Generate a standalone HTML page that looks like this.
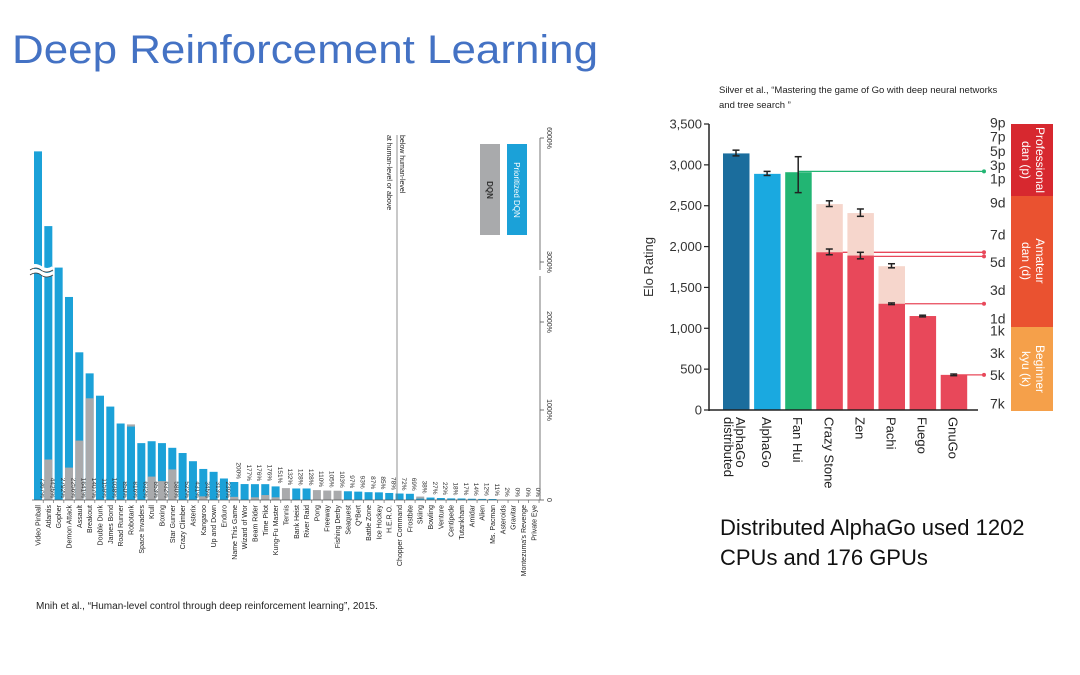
<!DOCTYPE html>
<html><head><meta charset="utf-8"><style>
body{margin:0;width:1080px;height:675px;background:#fff;overflow:hidden;font-family:"Liberation Sans",sans-serif}
svg{position:absolute;left:0;top:0}
</style></head><body>
<svg id="s" width="1080" height="675" xmlns="http://www.w3.org/2000/svg" font-family="Liberation Sans, sans-serif">
<text x="12" y="63" font-size="40" fill="#4472c4" textLength="586" lengthAdjust="spacingAndGlyphs">Deep Reinforcement Learning</text>
<g id="left"></g>
<g id="right"></g>
<text x="36" y="609" font-size="10" fill="#222">Mnih et al., “Human-level control through deep reinforcement learning”, 2015.</text>
<text x="719" y="93" font-size="9.5" fill="#222">Silver et al., “Mastering the game of Go with deep neural networks</text>
<text x="719" y="108" font-size="9.5" fill="#222">and tree search ”</text>
<text x="720" y="535" font-size="22" fill="#111">Distributed AlphaGo used 1202</text>
<text x="720" y="565" font-size="22" fill="#111">CPUs and 176 GPUs</text>
</svg>
<script>
const games=["Video Pinball","Atlantis","Gopher","Demon Attack","Assault","Breakout","Double Dunk","James Bond","Road Runner","Robotank","Space Invaders","Krull","Boxing","Star Gunner","Crazy Climber","Asterix","Kangaroo","Up and Down","Enduro","Name This Game","Wizard of Wor","Beam Rider","Time Pilot","Kung-Fu Master","Tennis","Bank Heist","River Raid","Pong","Freeway","Fishing Derby","Seaquest","Q*Bert","Battle Zone","Ice Hockey","H.E.R.O.","Chopper Command","Frostbite","Skiing","Bowling","Venture","Centipede","Tutankham","Amidar","Alien","Ms. Pacman","Asteroids","Gravitar","Montezuma's Revenge","Private Eye"];
const prioVals=[7367,4425,2792,2256,1641,1407,1159,1038,850,816,632,653,632,580,522,431,345,313,239,200,177,176,176,151,0,128,128,0,0,0,97,93,87,85,78,72,69,15,27,22,18,17,14,12,11,2,0,0,0];
const dqnVals=[0,450,0,360,660,1130,0,0,0,840,0,260,210,340,0,0,40,0,0,35,0,30,55,30,132,0,0,110,105,103,0,0,0,0,0,0,0,38,0,0,0,0,0,0,0,0,0,0,0];
const valueLabels=["7367%","4425%","2792%","2256%","1641%","1407%","1159%","1038%","850%","816%","632%","653%","632%","580%","522%","431%","345%","313%","239%","200%","177%","176%","176%","151%","132%","128%","128%","110%","105%","103%","97%","93%","87%","85%","78%","72%","69%","38%","27%","22%","18%","17%","14%","12%","11%","2%","0%","0%","0%"];
const leftTicks=[0,1000,2000,3000,6000];
const leftTickLabels=["0","1000%","2000%","3000%","6000%"];
const eloNames=[["AlphaGo","distributed"],["AlphaGo"],["Fan Hui"],["Crazy Stone"],["Zen"],["Pachi"],["Fuego"],["GnuGo"]];
const eloVals=[3140,2890,2910,1930,1890,1300,1150,430];
const eloHigh=[0,0,0,2520,2410,1760,0,0];
const eloErr=[[3110,3180],[2870,2920],[2660,3100],[1900,1970],[1850,1930],[1290,1310],[1140,1160],[420,440]];
const eloErrHigh=[null,null,null,[2490,2560],[2370,2460],[1740,1790],null,null];
const eloLines=[2920,1930,1880,1300,430];
const eloTicks=[0,500,1000,1500,2000,2500,3000,3500];
const ranks=["9p","7p","5p","3p","1p","9d","7d","5d","3d","1d","1k","3k","5k","7k"];
const rankElo=[3520,3350,3170,3000,2830,2540,2150,1810,1470,1120,970,700,430,80];

const NS="http://www.w3.org/2000/svg";
function mk(p,t,a){const e=document.createElementNS(NS,t);for(const k in a)e.setAttribute(k,a[k]);p.appendChild(e);return e;}
// LEFT
const L=document.getElementById('left');
const base=500;
function ly(v){return v<=2500?base-v*0.09:base-2500*0.09-(v-2500)*0.0254;}
function lx(i){return 38+i*10.33;}
function tickY(v){const m={0:500,1000:410,2000:322,3000:262,6000:138};return m[v]!==undefined?m[v]:ly(v);}
for(let i=0;i<games.length;i++){
  const p=prioVals[i],d=dqnVals[i];
  const bars=p>=d?[[p,'#1ba1d8'],[d,'#a9aaac']]:[[d,'#a9aaac'],[p,'#1ba1d8']];
  bars.forEach(([v,c],k)=>{ if(v<=0)return;
    const r=mk(L,'rect',{x:lx(i)-4,y:ly(v),width:8,height:base-ly(v),fill:c});
    
    
  });
  const top=ly(Math.max(p,d));
  const inside=i<19;
  const yy=inside?base-2:top-3;
  const t=mk(L,'text',{x:0,y:0,'font-size':6.5,fill:'#333','text-anchor':'end',transform:`translate(${lx(i)+2.3},${yy}) rotate(90)`});
  t.textContent=valueLabels[i];
  
  
  const g=mk(L,'text',{x:0,y:0,'font-size':7,fill:'#222','text-anchor':'end',transform:`translate(${lx(i)+2.5},505) rotate(-90)`});
  g.textContent=games[i];
  
  
  mk(L,'line',{x1:lx(i)+5.2,x2:lx(i)+5.2,y1:base,y2:base+3,stroke:'#555','stroke-width':0.6});
}
mk(L,'line',{x1:32,x2:540,y1:base,y2:base,stroke:'#555','stroke-width':0.8});
mk(L,'line',{x1:540,x2:540,y1:138,y2:270,stroke:'#555','stroke-width':0.8});
mk(L,'line',{x1:540,x2:540,y1:276,y2:base,stroke:'#555','stroke-width':0.8});
mk(L,'path',{d:'M29 273 q6 -4 12 0 t12 0 M29 268 q6 -4 12 0 t12 0',stroke:'#fff','stroke-width':4,fill:'none'});
mk(L,'path',{d:'M30 275 q6 -4 11 0 t12 0 M30 270 q6 -4 11 0 t12 0',stroke:'#333','stroke-width':0.8,fill:'none'});
leftTicks.forEach((v,k)=>{const y=tickY(v);
  mk(L,'line',{x1:540,x2:544,y1:y,y2:y,stroke:'#555','stroke-width':0.8});
  const t=mk(L,'text',{x:0,y:0,'font-size':7,fill:'#333','text-anchor':'middle',transform:`translate(${547},${y}) rotate(90)`});
  t.textContent=leftTickLabels[k];
  
  
});
mk(L,'line',{x1:397,x2:397,y1:135,y2:base,stroke:'#777','stroke-width':0.8});
let t1=mk(L,'text',{x:0,y:0,'font-size':7,fill:'#222','text-anchor':'start',transform:'translate(387,135) rotate(90)'});t1.textContent='at human-level or above';
t1=mk(L,'text',{x:0,y:0,'font-size':7,fill:'#222','text-anchor':'start',transform:'translate(400,135) rotate(90)'});t1.textContent='below human-level';
mk(L,'rect',{x:480,y:144,width:20,height:91,fill:'#a9aaac',});
mk(L,'rect',{x:507,y:144,width:20,height:91,fill:'#1ba1d8',});
t1=mk(L,'text',{x:0,y:0,'font-size':8,'font-weight':'bold',fill:'#333','text-anchor':'middle',transform:'translate(487,190) rotate(90)'});t1.textContent='DQN';
t1=mk(L,'text',{x:0,y:0,'font-size':8,fill:'#fff','text-anchor':'middle',transform:'translate(514,190) rotate(90)'});t1.textContent='Prioritized DQN';

// RIGHT
const R=document.getElementById('right');
function ry(v){return 410-v*286/3500;}
function rx(i){return 736+i*31.1;}
const cols=['#1b6d9d','#1aa9e0','#22b573','#e8485a','#e8485a','#e8485a','#e8485a','#e8485a'];
function err(a,x){mk(R,'line',{x1:x,x2:x,y1:ry(a[1]),y2:ry(a[0]),stroke:'#222','stroke-width':1.5});
  [a[0],a[1]].forEach(v=>mk(R,'line',{x1:x-3.5,x2:x+3.5,y1:ry(v),y2:ry(v),stroke:'#222','stroke-width':1.5}));}
eloLines.forEach((v,k)=>{const c=k==0?'#22b573':'#e8485a';
  const x0=k==0?rx(2):k==1?rx(3):k==2?rx(4):k==3?rx(5):rx(7);
  mk(R,'line',{x1:x0,x2:984,y1:ry(v),y2:ry(v),stroke:c,'stroke-width':1.3});
  mk(R,'circle',{cx:984,cy:ry(v),r:2,fill:c});});
for(let i=0;i<eloVals.length;i++){
  if(eloHigh[i]>0){const r=mk(R,'rect',{x:rx(i)-13,y:ry(eloHigh[i]),width:26.5,height:410-ry(eloHigh[i]),fill:'#f6d6cc'});
    
    }
  const r=mk(R,'rect',{x:rx(i)-13,y:ry(eloVals[i]),width:26.5,height:410-ry(eloVals[i]),fill:cols[i]});
  
  
  err(eloErr[i],rx(i)); if(eloErrHigh[i])err(eloErrHigh[i],rx(i));
  eloNames[i].forEach((n,k)=>{const t=mk(R,'text',{x:0,y:0,'font-size':13,fill:'#222',transform:`translate(${rx(i)-5+ (eloNames[i].length>1?(k==0?5:-7):0)},417) rotate(90)`});t.textContent=n;
    
    });
}
mk(R,'line',{x1:709,x2:709,y1:124,y2:411,stroke:'#222','stroke-width':1.5});
mk(R,'line',{x1:709,x2:978,y1:410,y2:410,stroke:'#222','stroke-width':1.5});
eloTicks.forEach(v=>{mk(R,'line',{x1:704,x2:709,y1:ry(v),y2:ry(v),stroke:'#222','stroke-width':1.2});
  const t=mk(R,'text',{x:702,y:ry(v)+4.5,'font-size':13,fill:'#333','text-anchor':'end'});t.textContent=v.toLocaleString('en-US');
  
  });
t1=mk(R,'text',{x:0,y:0,'font-size':13,fill:'#333','text-anchor':'middle',transform:'translate(653,267) rotate(-90)'});t1.textContent='Elo Rating';
mk(R,'rect',{x:1011,y:124,width:42,height:72,fill:'#d7282f'});
mk(R,'rect',{x:1011,y:196,width:42,height:131,fill:'#ea5230'});
mk(R,'rect',{x:1011,y:327,width:42,height:84,fill:'#f5a04a'});
[['Professional','dan (p)',160],['Amateur','dan (d)',261],['Beginner','kyu (k)',369]].forEach(a=>{
  let t=mk(R,'text',{x:0,y:0,'font-size':12,fill:'#fff','text-anchor':'middle',transform:`translate(1036,${a[2]}) rotate(90)`});t.textContent=a[0];
  t=mk(R,'text',{x:0,y:0,'font-size':12,fill:'#fff','text-anchor':'middle',transform:`translate(1022,${a[2]}) rotate(90)`});t.textContent=a[1];});
ranks.forEach((r,k)=>{const t=mk(R,'text',{x:990,y:ry(rankElo[k])+5,'font-size':14,fill:'#333'});t.textContent=r;
  
  });
</script>
</body></html>
